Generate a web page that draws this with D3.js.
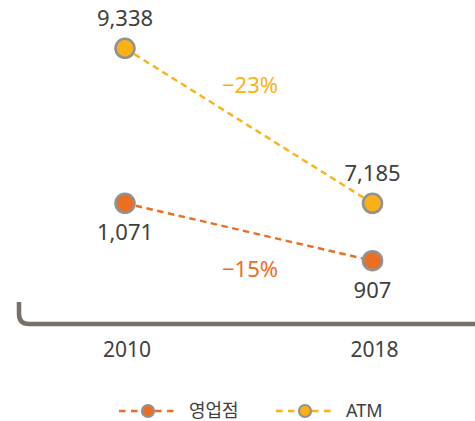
<!DOCTYPE html>
<html>
<head>
<meta charset="utf-8">
<script src="https://cdn.jsdelivr.net/npm/d3@7"></script>
<style>
  body { margin: 0; background: #fff; }
  text { font-family: "Noto Sans", "Noto Sans CJK KR", sans-serif; }
</style>
</head>
<body>
<div id="visualization"></div>
<script>
const years = ["2010", "2018"];
const branchValues = [1071, 907];
const atmValues = [9338, 7185];
const seriesNames = ["영업점", "ATM"];
const changeLabels = ["−15%", "−23%"];
const colors = ["#EC6E23", "#FBB116"];

const width = 475;
const height = 421;

const svg = d3.select("#visualization")
    .append("svg")
    .attr("width", width)
    .attr("height", height);

const x = d3.scalePoint().domain(years).range([125, 372.5]);

// each series sits on its own band of the plot
const yAtm = d3.scaleLinear().domain(d3.extent(atmValues)).range([203.3, 48.3]);
const yBranch = d3.scaleLinear().domain(d3.extent(branchValues)).range([260.7, 203.3]);

const series = [
    {name: seriesNames[0], values: branchValues, y: yBranch, color: colors[0], change: changeLabels[0], labelBelow: true},
    {name: seriesNames[1], values: atmValues, y: yAtm, color: colors[1], change: changeLabels[1], labelBelow: false}
];

// axis base line with rounded left corner
const baseY = 324, leftX = 19, r = 10;
svg.append("path")
    .attr("d", `M${leftX},302 L${leftX},${baseY - r} Q${leftX},${baseY} ${leftX + r},${baseY} L${width},${baseY}`)
    .attr("fill", "none")
    .attr("stroke", "#7a6f66")
    .attr("stroke-width", 4.5);

svg.selectAll(".year")
    .data(years)
    .enter().append("text")
    .attr("class", "year")
    .attr("x", (d) => x(d) + 2)
    .attr("y", 357)
    .attr("text-anchor", "middle")
    .style("font-size", "21px")
    .style("fill", "#404040")
    .text((d) => d);

const line = (s) => d3.line()
    .x((d, i) => x(years[i]))
    .y((d) => s.y(d));

series.forEach((s) => {
    const g = svg.append("g");

    g.append("path")
        .datum(s.values)
        .attr("d", line(s))
        .attr("fill", "none")
        .attr("stroke", s.color)
        .attr("stroke-width", 2.4)
        .attr("stroke-dasharray", "6.5,4.5");

    g.selectAll("circle")
        .data(s.values)
        .enter().append("circle")
        .attr("cx", (d, i) => x(years[i]))
        .attr("cy", (d) => s.y(d))
        .attr("r", 9.5)
        .style("fill", s.color)
        .style("stroke", "#929292")
        .style("stroke-width", 2.6);

    g.selectAll(".value")
        .data(s.values)
        .enter().append("text")
        .attr("class", "value")
        .attr("x", (d, i) => x(years[i]))
        .attr("y", (d) => s.labelBelow ? s.y(d) + 37 : s.y(d) - 22)
        .attr("text-anchor", "middle")
        .style("font-size", "22px")
        .style("fill", "#404040")
        .text((d) => d3.format(",")(d));
});

svg.append("text")
    .attr("x", 250).attr("y", 93)
    .attr("text-anchor", "middle")
    .style("font-size", "22px")
    .style("fill", colors[1])
    .text(changeLabels[1]);

svg.append("text")
    .attr("x", 250).attr("y", 277)
    .attr("text-anchor", "middle")
    .style("font-size", "22px")
    .style("fill", colors[0])
    .text(changeLabels[0]);

// legend
const legend = svg.selectAll(".legend")
    .data(series)
    .enter().append("g")
    .attr("class", "legend")
    .attr("transform", (d, i) => `translate(${[148, 305][i]},411)`);

legend.append("line")
    .attr("x1", -29).attr("x2", 29)
    .attr("stroke", (d) => d.color)
    .attr("stroke-width", 2.4)
    .attr("stroke-dasharray", "6.5,5.5");

legend.append("circle")
    .attr("r", 6)
    .style("fill", (d) => d.color)
    .style("stroke", "#929292")
    .style("stroke-width", 2.2);

legend.append("text")
    .attr("x", 41).attr("y", 6)
    .style("font-size", "18px")
    .style("fill", "#404040")
    .text((d) => d.name);
</script>
</body>
</html>
